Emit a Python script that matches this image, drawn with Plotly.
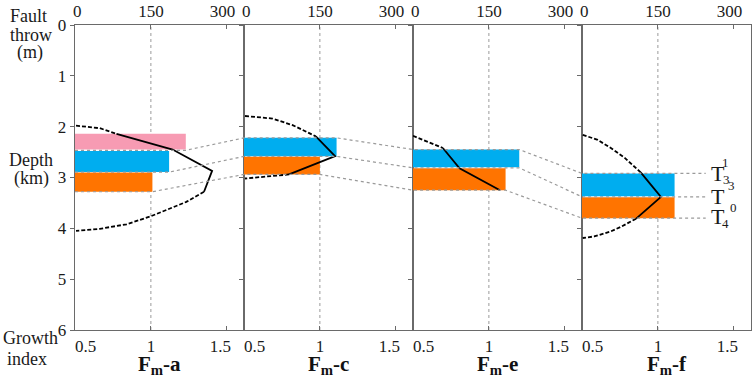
import plotly.graph_objects as go

# ---------------- data ----------------
panel_names = ["a", "c", "e", "f"]
growth_ticks = [0.5, 1, 1.5]
growth_labels = ["&nbsp;&nbsp;&nbsp;&nbsp;&nbsp;0.5", "1", "1.5&nbsp;&nbsp;&nbsp;"]
throw_ticks = [0, 150, 300]
throw_labels = ["&nbsp;0", "150", "300&nbsp;&nbsp;"]
depth_ticks = [0, 1, 2, 3, 4, 5, 6]

# pink layer (only in panel a)
pink_top = 2.14
pink_bot = 2.45
pink_gi = 1.23

# blue layer (T3^3^1 - T3^3^0) and orange layer (T3^3^0 - T4), per panel
blue_top = [2.48, 2.22, 2.45, 2.92]
blue_bot = [2.89, 2.58, 2.80, 3.37]
blue_gi = [1.12, 1.11, 1.20, 1.11]
orange_top = [2.90, 2.59, 2.82, 3.39]
orange_bot = [3.28, 2.94, 3.25, 3.80]
orange_gi = [1.01, 1.00, 1.11, 1.11]

# fault throw profiles (throw m, depth km): dashed upper, solid, dashed lower
thr_up_t = [[2, 49, 82], [2, 56, 96, 142], [0, 59], [1.4, 31, 57, 84, 116]]
thr_up_d = [[1.98, 2.03, 2.14], [1.79, 1.84, 1.97, 2.19], [2.18, 2.42], [2.16, 2.26, 2.42, 2.61, 2.90]]
thr_mid_t = [[82, 193, 271, 255], [142, 180, 89], [59, 92, 172], [116, 156, 107]]
thr_mid_d = [[2.14, 2.45, 2.87, 3.28], [2.19, 2.58, 2.94], [2.42, 2.82, 3.25], [2.90, 3.38, 3.81]]
thr_lo_t = [[255, 220, 148, 102, 49, 2], [89, 50, 2], [], [107, 77, 57, 24, 1.4]]
thr_lo_d = [[3.28, 3.48, 3.77, 3.92, 4.01, 4.05], [2.94, 2.97, 3.02], [], [3.81, 3.97, 4.06, 4.16, 4.19]]

label_extent_gi = 1.315  # horizon lines extend to the labels in last panel

# ---------------- layout constants ----------------
W, H = 754, 380
ML, MR, MT, MB = 75, 2, 20, 50
GMIN = 0.5
GSPAN = (W - ML - MR) / 4 / 152.0
GMAX = GMIN + GSPAN
TMAX = GSPAN * 300

FONT = "Liberation Serif"
AX = "#6a6a6a"
PINK = "#f79bb3"
BLUE = "#00adef"
ORANGE = "#ff7400"
GRID = "#9a9a9a"
TXT = "#1a1a1a"
TICK_SIZE = 17

fig = go.Figure()
layout = dict(
    width=W, height=H,
    margin=dict(l=ML, r=MR, t=MT, b=MB),
    paper_bgcolor="white", plot_bgcolor="rgba(0,0,0,0)",
    showlegend=False, barmode="overlay",
    font=dict(family=FONT, size=16, color=TXT),
)
shapes = []
annotations = []

for i in range(4):
    xb = f"x{2*i+1}"
    xt = f"x{2*i+2}"
    yy = f"y{i+1}"
    d0, d1 = i / 4, (i + 1) / 4
    xb_ref = "x" if i == 0 else xb
    yy_ref = "y" if i == 0 else yy
    layout[f"xaxis{2*i+1}"] = dict(
        domain=[d0, d1], anchor=yy_ref, range=[GMIN, GMAX], side="bottom",
        tickvals=growth_ticks, ticktext=growth_labels, ticks="inside", ticklen=4,
        tickcolor=AX, showline=True, linecolor=AX, linewidth=1.3, showgrid=False,
        zeroline=False, tickfont=dict(size=TICK_SIZE, family=FONT, color=TXT),
    )
    layout[f"xaxis{2*i+2}"] = dict(
        overlaying=xb_ref, anchor=yy_ref, range=[0, TMAX], side="top",
        tickvals=throw_ticks, ticktext=throw_labels, ticks="inside", ticklen=4,
        tickcolor=AX, showline=True, linecolor=AX, linewidth=1.3, showgrid=False,
        zeroline=False, tickfont=dict(size=TICK_SIZE, family=FONT, color=TXT),
    )
    layout[f"yaxis{i+1}"] = dict(
        domain=[0, 1], anchor=xb_ref, range=[6, 0],
        tickvals=depth_ticks, ticks="outside", ticklen=4, tickcolor=AX,
        showline=True, linecolor=AX, linewidth=1.3, mirror=True, showgrid=False,
        zeroline=False, showticklabels=(i == 0), tickfont=dict(size=TICK_SIZE, family=FONT, color=TXT),
    )

    # dotted reference line at growth index 1
    shapes.append(dict(type="line", xref=xb_ref, yref=f"{yy_ref} domain", x0=1, x1=1, y0=0, y1=1,
                       line=dict(color=GRID, width=1, dash="dot"), layer="below"))

    # bars
    if i == 0:
        fig.add_trace(go.Bar(orientation="h", y=[(pink_top + pink_bot) / 2], x=[pink_gi - GMIN],
                             base=GMIN, width=[pink_bot - pink_top], marker=dict(color=PINK, line=dict(width=0)),
                             xaxis=xb_ref, yaxis=yy_ref, hoverinfo="skip"))
    fig.add_trace(go.Bar(orientation="h", y=[(blue_top[i] + blue_bot[i]) / 2], x=[blue_gi[i] - GMIN],
                         base=GMIN, width=[blue_bot[i] - blue_top[i]], marker=dict(color=BLUE, line=dict(width=0)),
                         xaxis=xb_ref, yaxis=yy_ref, hoverinfo="skip"))
    fig.add_trace(go.Bar(orientation="h", y=[(orange_top[i] + orange_bot[i]) / 2], x=[orange_gi[i] - GMIN],
                         base=GMIN, width=[orange_bot[i] - orange_top[i]], marker=dict(color=ORANGE, line=dict(width=0)),
                         xaxis=xb_ref, yaxis=yy_ref, hoverinfo="skip"))

    # throw profiles
    for tt, dd, dash in [(thr_up_t[i], thr_up_d[i], "4px,2px"), (thr_mid_t[i], thr_mid_d[i], "solid"),
                         (thr_lo_t[i], thr_lo_d[i], "4px,2px")]:
        if tt:
            fig.add_trace(go.Scatter(x=tt, y=dd, mode="lines", xaxis=xt, yaxis=yy_ref,
                                     line=dict(color="black", width=1.8, dash=dash), hoverinfo="skip"))

    # panel title
    annotations.append(dict(text=f"<b>F<sub>m</sub>-{panel_names[i]}</b>", xref="paper", yref="paper",
                            x=(d0 + d1) / 2, y=(330 - 366) / 310, xanchor="center", yanchor="middle",
                            showarrow=False, font=dict(size=21, family=FONT, color="#111")))

# horizons & connectors on a global overlay axis
layout["xaxis9"] = dict(domain=[0, 1], anchor="y5", range=[0, 4], visible=False)
layout["yaxis5"] = dict(domain=[0, 1], anchor="x9", range=[6, 0], visible=False)

def u(i, g):
    return i + (g - GMIN) / GSPAN

h_top, h_mid, h_bot, e_top, e_mid, e_bot = [], [], [], [], [], []
for i in range(4):
    if i == 0:
        h_top.append((pink_bot + blue_top[i]) / 2)
        e_top.append(max(pink_gi, blue_gi[i]))
    else:
        h_top.append(blue_top[i])
        e_top.append(blue_gi[i])
    h_mid.append((blue_bot[i] + orange_top[i]) / 2)
    e_mid.append(max(blue_gi[i], orange_gi[i]))
    h_bot.append(orange_bot[i])
    e_bot.append(orange_gi[i])

for hs, es in [(h_top, e_top), (h_mid, e_mid), (h_bot, e_bot)]:
    xs, ys = [], []
    for i in range(4):
        xs += [u(i, GMIN), u(i, es[i])]
        ys += [hs[i], hs[i]]
    xs.append(u(3, label_extent_gi))
    ys.append(hs[3])
    fig.add_trace(go.Scatter(x=xs, y=ys, mode="lines", xaxis="x9", yaxis="y5",
                             line=dict(color=GRID, width=1.2, dash="dot"), hoverinfo="skip"))

def px(xp):
    return (xp - ML) / (W - ML - MR)

def py(yp):
    return (H - MB - yp) / (H - MT - MB)

# left side labels
for txt, xp, yp in [("Fault", 28, 11), ("throw", 31, 30), ("(m)", 30, 48),
                    ("Depth", 31, 157), ("(km)", 31, 176),
                    ("Growth", 30, 338), ("index", 27, 359)]:
    annotations.append(dict(text=txt, xref="paper", yref="paper", x=px(xp), y=py(yp),
                            xanchor="center", yanchor="middle", showarrow=False,
                            font=dict(size=18, family=FONT, color=TXT)))

# horizon labels
for txt, xp, yp, sz in [("T", 719, 171, 22), ("1", 726, 160, 13), ("3", 727, 177, 13),
                        ("T", 719, 194, 22), ("3", 732, 183.5, 13), ("0", 734.5, 205, 13),
                        ("T", 719, 215, 22), ("4", 726, 222, 13)]:
    annotations.append(dict(text=txt, xref="paper", yref="paper", x=px(xp), y=py(yp),
                            xanchor="center", yanchor="middle", showarrow=False,
                            font=dict(size=sz, family=FONT, color=TXT)))

layout["shapes"] = shapes
layout["annotations"] = annotations
fig.update_layout(**layout)
fig.write_html("out.html", config={"displayModeBar": False, "staticPlot": True},
               post_script="document.body.style.margin='0';document.body.style.overflow='hidden';")
